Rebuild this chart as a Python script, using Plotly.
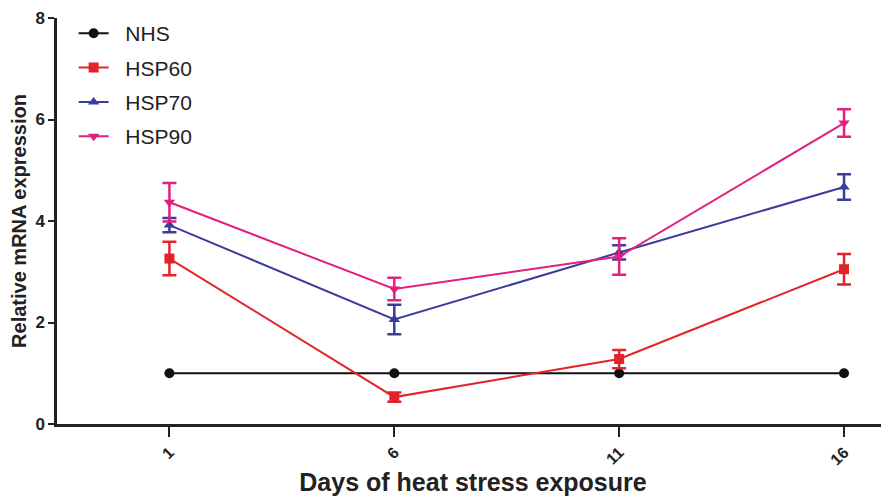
import plotly.graph_objects as go

days = [1, 6, 11, 16]
nhs = [1.0, 1.0, 1.0, 1.0]
hsp60 = [3.26, 0.53, 1.28, 3.05]
hsp60_err = [0.33, 0.09, 0.18, 0.30]
hsp70 = [3.92, 2.06, 3.38, 4.67]
hsp70_err = [0.14, 0.29, 0.14, 0.25]
hsp90 = [4.37, 2.66, 3.30, 5.93]
hsp90_err = [0.38, 0.22, 0.36, 0.27]

series = [
    ("NHS", nhs, None, "#111111", "circle"),
    ("HSP60", hsp60, hsp60_err, "#e3232a", "square"),
    ("HSP70", hsp70, hsp70_err, "#3a3d9c", "triangle-up"),
    ("HSP90", hsp90, hsp90_err, "#e2217f", "triangle-down"),
]

fig = go.Figure()
for name, vals, err, color, sym in series:
    fig.add_trace(go.Scatter(
        x=days, y=vals, name="\u00a0\u00a0" + name, mode="lines+markers", legendgroup=name,
        line=dict(color=color, width=2),
        marker=dict(symbol=sym, size=10, color=color),
        error_y=(dict(type="data", array=err, visible=True, color=color,
                      thickness=2.5, width=7) if err else None),
    ))

font = "Liberation Sans, Arial, sans-serif"
fig.update_layout(
    width=881, height=492,
    margin=dict(l=49, r=0, t=10, b=76),
    plot_bgcolor="white", paper_bgcolor="white",
    font=dict(family=font, color="#222222"),
    showlegend=True,
    legend=dict(x=0.02, y=1.012, xanchor="left", yanchor="top",
                font=dict(size=21, color="#222222"), bgcolor="rgba(0,0,0,0)",
                tracegroupgap=4),
    xaxis=dict(
        range=[-1.5, 17], tickvals=days, ticktext=[str(d) for d in days],
        tickangle=-45, showgrid=False, zeroline=False, automargin=False,
        showline=True, linecolor="#222222", linewidth=2.5,
        ticks="outside", ticklen=10, tickwidth=2, tickcolor="#222222",
        tickfont=dict(size=16, family=font, weight="bold", color="#222222"),
        title=dict(text="<b>Days of heat stress exposure</b>",
                   font=dict(size=25, family=font), standoff=4),
    ),
    yaxis=dict(
        range=[0, 8], tickvals=[0, 2, 4, 6, 8], showgrid=False, zeroline=False,
        automargin=False, ticklabeloverflow="allow",
        showline=True, linecolor="#222222", linewidth=2.5,
        ticks="outside", ticklen=6, tickwidth=2, tickcolor="#222222",
        tickfont=dict(size=17, family=font, weight="bold", color="#222222"),
        title=dict(text="<b>Relative mRNA expression</b>", font=dict(size=20), standoff=4),
    ),
)

fig.write_html("out.html")
